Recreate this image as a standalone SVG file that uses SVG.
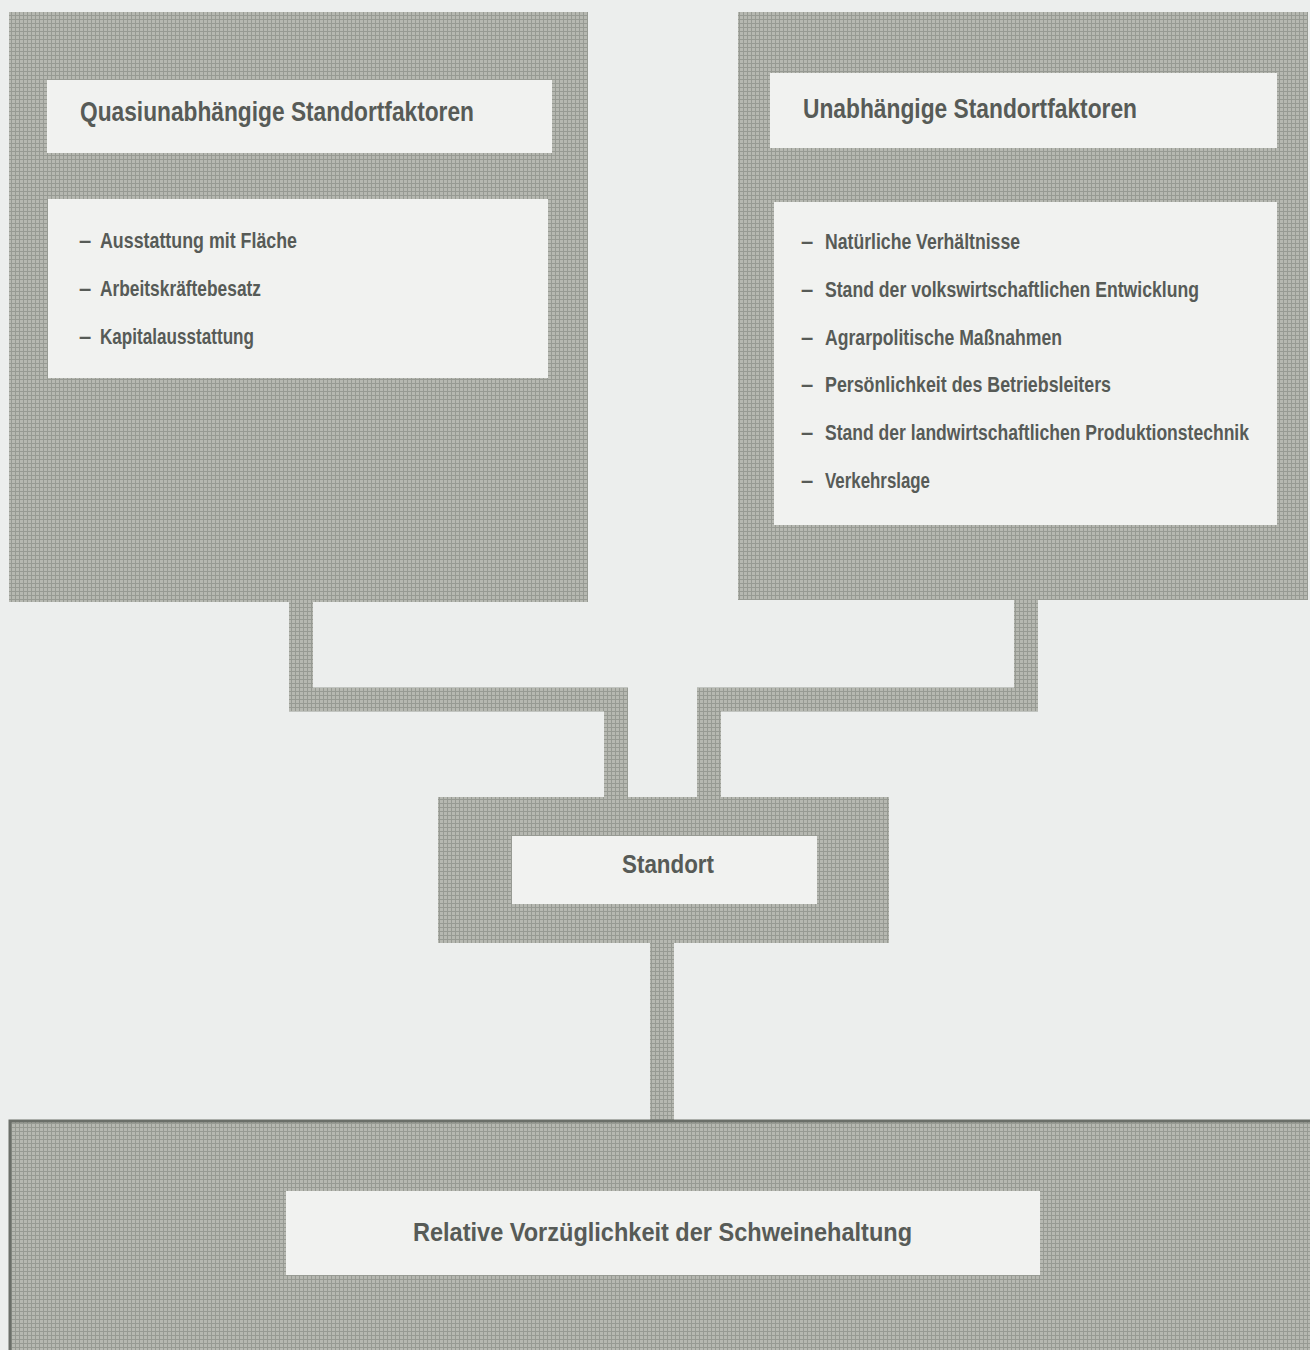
<svg xmlns="http://www.w3.org/2000/svg" width="1310" height="1350" viewBox="0 0 1310 1350">
<defs>
<pattern id="tex" width="4" height="4" patternUnits="userSpaceOnUse">
<rect width="4" height="4" fill="#b6b8b1"/>
<path d="M0 3.5H4M3.5 0V4" stroke="#979a93" stroke-width="1"/>
</pattern>
<style>
.g{fill:url(#tex)}
.w{fill:#f1f2f0}
.t{font-family:"Liberation Sans",Arial,sans-serif;font-weight:bold;fill:#575b57}
.h{font-size:28px}
.i{font-size:22px}
.c{stroke:url(#tex);stroke-width:24;fill:none;stroke-linejoin:miter}
</style>
</defs>
<rect width="1310" height="1350" fill="#eceeed"/>
<g id="connectors">
<path class="c" d="M301 600V699.5H616V798"/>
<path class="c" d="M1026 600V699.5H709V798"/>
<path class="c" d="M662 940V1121"/>
</g>
<g id="node-quasi">
<rect class="g" x="9" y="12" width="579" height="590"/>
<rect class="w" x="47" y="80" width="505" height="73"/>
<rect class="w" x="48" y="199" width="500" height="179"/>
<text class="t h" x="80" y="121" textLength="394" lengthAdjust="spacingAndGlyphs">Quasiunabhängige Standortfaktoren</text>
<text class="t i" x="79" y="248">–</text>
<text class="t i" x="100" y="248" textLength="197" lengthAdjust="spacingAndGlyphs">Ausstattung mit Fläche</text>
<text class="t i" x="79" y="296">–</text>
<text class="t i" x="100" y="296" textLength="161" lengthAdjust="spacingAndGlyphs">Arbeitskräftebesatz</text>
<text class="t i" x="79" y="344">–</text>
<text class="t i" x="100" y="344" textLength="154" lengthAdjust="spacingAndGlyphs">Kapitalausstattung</text>
</g>
<g id="node-unab">
<rect class="g" x="738" y="12" width="570" height="588"/>
<rect class="w" x="770" y="73" width="507" height="75"/>
<rect class="w" x="774" y="202" width="503" height="323"/>
<text class="t h" x="803" y="118" textLength="334" lengthAdjust="spacingAndGlyphs">Unabhängige Standortfaktoren</text>
<text class="t i" x="801" y="249">–</text>
<text class="t i" x="825" y="249" textLength="195" lengthAdjust="spacingAndGlyphs">Natürliche Verhältnisse</text>
<text class="t i" x="801" y="297">–</text>
<text class="t i" x="825" y="297" textLength="374" lengthAdjust="spacingAndGlyphs">Stand der volkswirtschaftlichen Entwicklung</text>
<text class="t i" x="801" y="345">–</text>
<text class="t i" x="825" y="345" textLength="237" lengthAdjust="spacingAndGlyphs">Agrarpolitische Maßnahmen</text>
<text class="t i" x="801" y="392">–</text>
<text class="t i" x="825" y="392" textLength="286" lengthAdjust="spacingAndGlyphs">Persönlichkeit des Betriebsleiters</text>
<text class="t i" x="801" y="440">–</text>
<text class="t i" x="825" y="440" textLength="424" lengthAdjust="spacingAndGlyphs">Stand der landwirtschaftlichen Produktionstechnik</text>
<text class="t i" x="801" y="488">–</text>
<text class="t i" x="825" y="488" textLength="105" lengthAdjust="spacingAndGlyphs">Verkehrslage</text>
</g>
<g id="node-standort">
<rect class="g" x="438" y="797" width="451" height="146"/>
<rect class="w" x="512" y="836" width="305" height="68"/>
<text class="t" font-size="25" x="622" y="873" textLength="92" lengthAdjust="spacingAndGlyphs">Standort</text>
</g>
<g id="node-relative">
<rect class="g" x="10" y="1121" width="1312" height="240" stroke="#6b6f69" stroke-width="3"/>
<rect class="w" x="286" y="1191" width="754" height="84"/>
<text class="t" font-size="26" x="413" y="1241" textLength="499" lengthAdjust="spacingAndGlyphs">Relative Vorzüglichkeit der Schweinehaltung</text>
</g>
</svg>
